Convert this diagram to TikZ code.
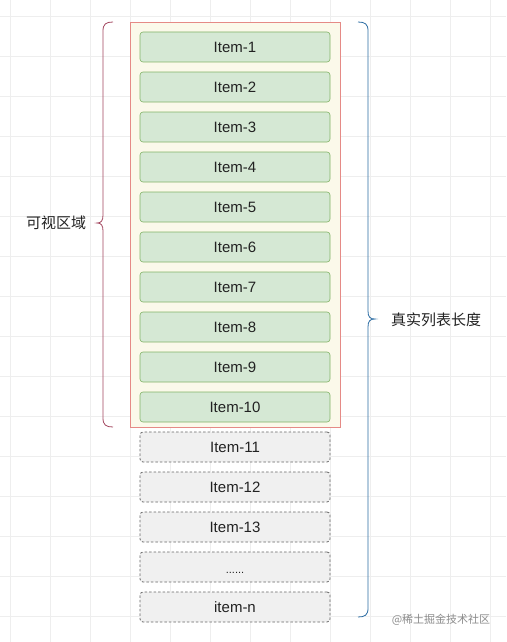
\documentclass[tikz,border=0pt]{standalone}
\usepackage{fontspec}
\setmainfont{Liberation Sans}
\newfontfamily\cjk{Noto Sans CJK SC}
\definecolor{gridc}{HTML}{EEEEEE}
\definecolor{gfill}{HTML}{D5E8D4}
\definecolor{gline}{HTML}{82B366}
\definecolor{cfill}{HTML}{FBF9EA}
\definecolor{cline}{HTML}{E58A86}
\definecolor{dfill}{HTML}{F0F0F0}
\definecolor{dline}{HTML}{666666}
\definecolor{lbrace}{HTML}{A3465F}
\definecolor{rbrace}{HTML}{2B6CA3}
\definecolor{txt}{HTML}{222222}
\begin{document}
\begin{tikzpicture}[x=1pt,y=-1pt,
  itembox/.style={draw=gline, fill=gfill, rounded corners=3pt, minimum width=190pt, minimum height=30pt, inner sep=0pt, text=txt, font=\fontsize{15}{18}\selectfont, line width=0.6pt},
  hiddenbox/.style={draw=dline, fill=dfill, dashed, dash pattern=on 2.5pt off 2pt, rounded corners=3pt, minimum width=190pt, minimum height=30pt, inner sep=0pt, text=txt, font=\fontsize{15}{18}\selectfont, line width=0.8pt},
  bracelabel/.style={text=txt, font=\cjk\fontsize{15}{18}\selectfont, inner sep=0pt}]
\useasboundingbox (0,0) rectangle (506,642);
\fill[white] (0,0) rectangle (506,642);
% grid
\foreach \x in {10,50,...,490} \draw[gridc, line width=0.6pt] (\x,0) -- (\x,642);
\foreach \y in {16,56,...,616} \draw[gridc, line width=0.6pt] (0,\y) -- (506,\y);
% container
\node[draw=cline, fill=cfill, minimum width=210pt, minimum height=405pt, inner sep=0pt, line width=0.7pt] (view) at (235,224.5) {};
% items
\foreach \i in {1,...,10} {
  \node[itembox] (it\i) at (235,{47+40*(\i-1)}) {Item-\i};
}
\node[hiddenbox] (it11) at (235,447) {Item-11};
\node[hiddenbox] (it12) at (235,487) {Item-12};
\node[hiddenbox] (it13) at (235,527) {Item-13};
\node[hiddenbox, font=\fontsize{11}{12}\selectfont] (it14) at (235,567) {\smash{\raisebox{-6pt}{......}}};
\node[hiddenbox] (itn) at (235,607) {item-n};
% left brace
\draw[lbrace, line width=0.8pt] (113,22) .. controls (106,22) and (103,24) .. (103,31) -- (103,215)
  .. controls (103,221) and (101,223) .. (97,223) .. controls (101,223) and (103,225) .. (103,231)
  -- (103,418) .. controls (103,425) and (106,427) .. (113,427);
\node[bracelabel] (lvis) at (56,223) {可视区域};
% right brace
\draw[rbrace, line width=0.8pt] (358,22) .. controls (365,22) and (368,24) .. (368,31) -- (368,311)
  .. controls (368,317) and (370,319) .. (375,319) .. controls (370,319) and (368,321) .. (368,327)
  -- (368,608) .. controls (368,615) and (365,617) .. (358,617);
\node[bracelabel] (lreal) at (436,320) {真实列表长度};
% watermark
\node[text=black!45, font=\cjk\fontsize{11}{13}\selectfont, inner sep=0pt] (wm) at (441,620) {@稀土掘金技术社区};
\end{tikzpicture}
\end{document}
